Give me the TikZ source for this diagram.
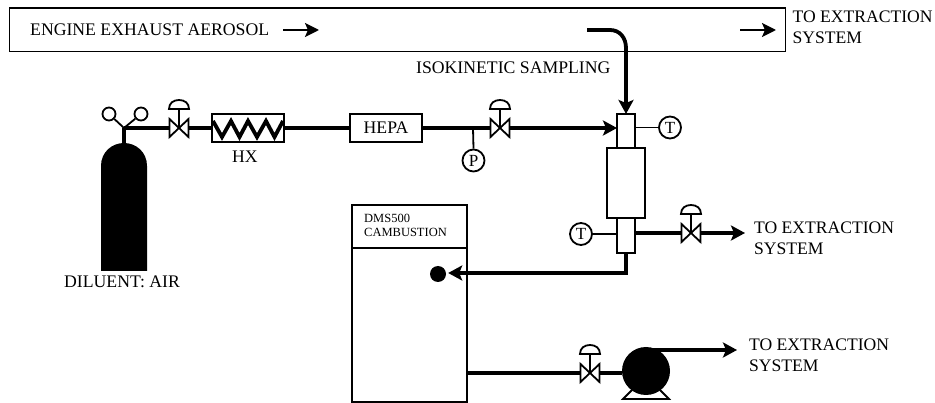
\documentclass[tikz,border=0pt]{standalone}
\usepackage{fontspec}
\setmainfont{Liberation Serif}
\usetikzlibrary{arrows.meta}
\tikzset{
  x=1pt,y=-1pt,
  thin line/.style={line width=1.8pt},
  pipe/.style={line width=3.8pt},
  flow/.style={pipe,-{Stealth[length=14pt,width=15pt,inset=3pt]}},
  smallflow/.style={line width=2.2pt,-{Stealth[length=14pt,width=14pt,inset=3pt]}},
  boxn/.style={draw=black,thin line,fill=white,inner sep=0pt,outer sep=0pt,anchor=north west},
  lab/.style={inner sep=0pt,anchor=base west,font=\fontsize{17.7}{21}\selectfont},
  labtwo/.style={inner sep=0pt,anchor=north west,align=left,font=\fontsize{17.6}{21.5}\selectfont},
  gauge/.style={draw=black,thin line,circle,fill=white,minimum size=22pt,inner sep=0pt,font=\fontsize{17}{17}\selectfont},
  anchorpt/.style={inner sep=0pt,outer sep=0pt,minimum width=20pt,minimum height=18pt},
  valvesym/.pic={
    \draw[thin line,fill=white,line join=miter] (-9.5,-9) -- (9.5,9) -- (9.5,-9) -- (-9.5,9) -- cycle;
    \draw[thin line] (0,0) -- (0,-19);
    \draw[thin line,fill=white] (-10,-19) .. controls (-10,-25) and (-5.5,-28) .. (0,-28)
       .. controls (5.5,-28) and (10,-25) .. (10,-19) -- cycle;
  }
}
\begin{document}
\begin{tikzpicture}
\useasboundingbox (0,0) rectangle (935,403);
% duct
\node[boxn,minimum width=776pt,minimum height=43.5pt] (duct) at (9.5,8) {};
\node[lab] (engtxt) at (30,36) {ENGINE EXHAUST AEROSOL};
\coordinate (a1s) at (283,30); \coordinate (a1e) at (319,30);
\coordinate (a2s) at (740,30); \coordinate (a2e) at (776,30);
\draw[smallflow] (a1s) -- (a1e);
\draw[smallflow] (a2s) -- (a2e);
\node[labtwo] (ex1) at (792.5,10.5) {TO EXTRACTION\\SYSTEM};
\node[lab] (iso) at (416,74) {ISOKINETIC SAMPLING};
% cylinder
\fill[black] (101,271) -- (101,166) .. controls (101,152) and (112,143) .. (124,143)
   .. controls (136,143) and (147,152) .. (147,166) -- (147,271) -- cycle;
\coordinate (cyl) at (124,143);
\coordinate (tee) at (124,128);
\node[draw=black,thin line,circle,minimum size=13pt,inner sep=0pt] (hl) at (109,114) {};
\node[draw=black,thin line,circle,minimum size=13pt,inner sep=0pt] (hr) at (141,114) {};
\draw[thin line] (hl) -- (tee) -- (hr);
\node[lab] (dil) at (64,288) {DILUENT: AIR};
% main line
\node[anchorpt] (v1) at (179,128) {};
\node[boxn,minimum width=72pt,minimum height=28pt] (hx) at (212,114) {};
\node[boxn,minimum width=72pt,minimum height=28pt] (hepa) at (350,114) {};
\node[lab,anchor=base] (hepat) at (386,134) {HEPA};
\node[lab,anchor=base] (hxt) at (245,163) {HX};
\node[anchorpt] (v2) at (500,128) {};
\coordinate (pt) at (473,128);
\node[gauge] (P) at (473.5,160.5) {P};
\node[boxn,minimum width=18pt,minimum height=34pt] (c1) at (617,114) {};
\node[boxn,minimum width=38pt,minimum height=70pt] (c2) at (607,148) {};
\node[boxn,minimum width=18pt,minimum height=34.5pt] (c3) at (617,218.5) {};
\node[gauge] (T1) at (670,127.5) {T};
\node[gauge] (T2) at (581,234) {T};
\draw[pipe] (tee) -- (cyl);
\draw[pipe] (tee) -- (v1.west);
\draw[pipe] (v1.east) -- (hx.west);
\draw[pipe,line join=miter] (213,121) -- (222,137) -- (231,121) -- (239.5,137) -- (248,121) -- (257,137) -- (266,121) -- (274.5,137) -- (283,121);
\draw[pipe] (hx.east) -- (hepa.west);
\draw[pipe] (hepa.east) -- (v2.west);
\draw[thin line] (pt) -- (P.north);
\draw[flow] (v2.east) -- (c1.west |- v2.east);
\pic at (v1) {valvesym};
\pic at (v2) {valvesym};
\draw[thin line] (c1.east |- T1) -- (T1);
\draw[thin line] (T2) -- (c3.west |- T2);
% sampling
\coordinate (ss) at (587,30);
\draw[flow] (ss) -- (610,30) .. controls (620,30) and (626,38) .. (626,48) -- (c1.north);
% DMS
\node[boxn,minimum width=115pt,minimum height=197pt] (dms) at (352,205) {};
\coordinate (dl) at (352,248); \coordinate (dr) at (467,248);
\draw[line width=1.4pt] (dl) -- (dr);
\node[inner sep=0pt,anchor=north west,align=left,font=\fontsize{12.5}{14}\selectfont] (dmst) at (364,213.5) {DMS500\\CAMBUSTION};
\node[fill=black,circle,minimum size=16pt,inner sep=0pt] (dot) at (438,274) {};
\draw[flow,line join=miter,shorten >=2pt] (c3.south) -- (626,273) -- (dot.east |- 626,273);
% second valve
\node[anchorpt] (v3) at (691,233) {};
\coordinate (e2) at (745,233);
\draw[pipe] (c3.east |- v3) -- (v3.west);
\draw[flow] (v3.east) -- (e2);
\pic at (v3) {valvesym};
\node[labtwo] (ex2) at (754,221.5) {TO EXTRACTION\\SYSTEM};
% pump line
\node[anchorpt] (v4) at (590,373) {};
\node[fill=black,circle,minimum size=48pt,inner sep=0pt] (pump) at (646,371) {};
\draw[pipe] (dms.east |- v4) -- (v4.west);
\draw[pipe] (v4.east) -- (pump.west |- v4.east);
\pic at (v4) {valvesym};
\draw[thin line] (632,390) -- (623,399) -- (669,399) -- (660,390);
\coordinate (e3) at (737,350);
\draw[flow] (pump.north |- e3) -- (e3);
\node[labtwo] (ex3) at (749,338.5) {TO EXTRACTION\\SYSTEM};
\end{tikzpicture}
\end{document}
